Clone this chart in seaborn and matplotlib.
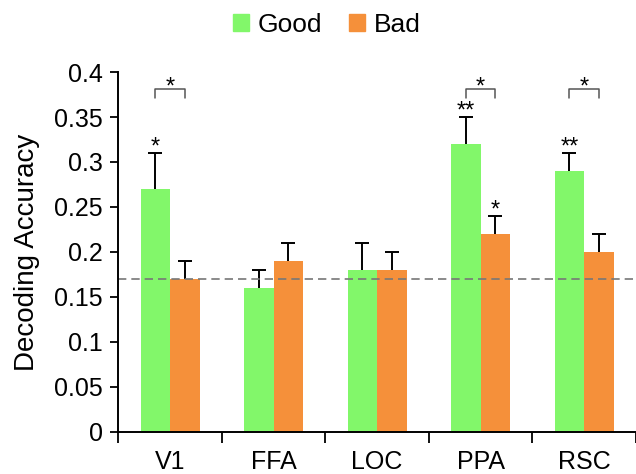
import numpy as np
import pandas as pd
import matplotlib
matplotlib.use("Agg")
import matplotlib.pyplot as plt
import seaborn as sns
from matplotlib.ticker import FixedLocator

# Data
regions = ["V1", "FFA", "LOC", "PPA", "RSC"]
good = [0.27, 0.16, 0.18, 0.32, 0.29]
good_err = [0.04, 0.02, 0.03, 0.03, 0.02]
bad = [0.17, 0.19, 0.18, 0.22, 0.20]
bad_err = [0.02, 0.02, 0.02, 0.02, 0.02]
good_stars = ["*", "", "", "**", "**"]
bad_stars = ["", "", "", "*", ""]
pair_stars = ["*", "", "", "*", "*"]
chance = 0.17

sns.set_style("white")
plt.rcParams['font.family'] = ['Liberation Sans', 'DejaVu Sans']
plt.rcParams['text.color'] = 'black'
plt.rcParams['xtick.color'] = 'black'
plt.rcParams['ytick.color'] = 'black'
plt.rcParams['axes.labelcolor'] = 'black'

df = pd.DataFrame({
    "Region": regions * 2,
    "Group": ["Good"] * 5 + ["Bad"] * 5,
    "Accuracy": good + bad,
})
palette = {"Good": "#82F76A", "Bad": "#F5903A"}

fig = plt.figure(figsize=(6.36, 4.74), dpi=100)
ax = fig.add_axes([0.186, 0.089, 0.814, 0.759])

sns.barplot(data=df, x="Region", y="Accuracy", hue="Group", order=regions,
            hue_order=["Good", "Bad"], palette=palette, width=0.57,
            errorbar=None, saturation=1, linewidth=0, ax=ax, legend=False)

# bar centers from the drawn patches
bars = [p for p in ax.patches if p.get_height() > 0]
bars = sorted(bars, key=lambda p: p.get_x())
good_x = [bars[2 * i].get_x() + bars[2 * i].get_width() / 2 for i in range(5)]
bad_x = [bars[2 * i + 1].get_x() + bars[2 * i + 1].get_width() / 2 for i in range(5)]

for xs, vals, errs in [(good_x, good, good_err), (bad_x, bad, bad_err)]:
    _, caps, _ = ax.errorbar(xs, vals, yerr=[np.zeros(5), errs], fmt="none",
                             ecolor="black", elinewidth=1.4, capsize=5, capthick=1.4)
    caps[0].set_visible(False)  # only the upper cap

# stars sit high in the text box, so anchor a bit below the target
for x, v, e, s in zip(good_x, good, good_err, good_stars):
    if s:
        ax.text(x, v + e - 0.006, s, ha="center", va="bottom", fontsize=17)
for x, v, e, s in zip(bad_x, bad, bad_err, bad_stars):
    if s:
        ax.text(x, v + e - 0.006, s, ha="center", va="bottom", fontsize=17)

# pair brackets
for gx, bx, s in zip(good_x, bad_x, pair_stars):
    if s:
        ax.plot([gx, gx, bx, bx], [0.371, 0.381, 0.381, 0.371],
                color="#555555", lw=1.1, clip_on=False)
        ax.text((gx + bx) / 2, 0.370, s, ha="center", va="bottom", fontsize=17)

ax.axhline(chance, color="#777777", lw=1.2, ls=(0, (5, 3)))

ax.set_xlim(-0.5, 4.5)
ax.set_ylim(0, 0.4)
ax.set_yticks(np.arange(0, 0.41, 0.05))
ax.set_yticklabels(["0", "0.05", "0.1", "0.15", "0.2", "0.25", "0.3", "0.35", "0.4"])
ax.xaxis.set_minor_locator(FixedLocator(np.arange(-0.5, 5, 1)))
ax.tick_params(axis="x", which="major", length=0, pad=13, labelsize=18)
ax.tick_params(axis="x", which="minor", length=8, width=1.3, direction="out", bottom=True)
ax.tick_params(axis="y", length=6, width=1.3, direction="out", left=True, labelsize=18, pad=5)
ax.set_xlabel("")
ax.set_ylabel("Decoding Accuracy", fontsize=20, labelpad=10)

sns.despine(ax=ax, top=True, right=True)
for sp in ["left", "bottom"]:
    ax.spines[sp].set_color("black")
    ax.spines[sp].set_linewidth(1.4)

handles = [plt.Rectangle((0, 0), 1, 1, color=palette[g]) for g in ["Good", "Bad"]]
fig.legend(handles, ["Good", "Bad"], loc="center", bbox_to_anchor=(0.514, 0.947),
           ncol=2, frameon=False, fontsize=19, handlelength=0.6, handleheight=0.6,
           handletextpad=0.35, columnspacing=1.0)

fig.savefig("out.png", dpi=100)
